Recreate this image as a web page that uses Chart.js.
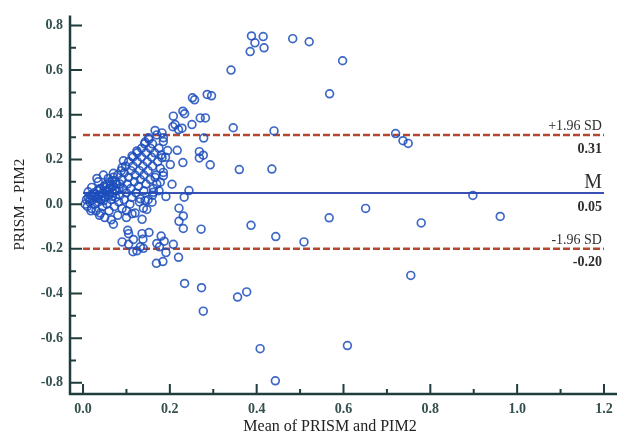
<!DOCTYPE html>
<html>
<head>
<meta charset="utf-8">
<script src="https://cdn.jsdelivr.net/npm/chart.js@4.4.1/dist/chart.umd.min.js"></script>
<style>
html,body{margin:0;padding:0;background:#fff}
#wrap{width:628px;height:440px}
</style>
</head>
<body>
<div id="wrap"><canvas id="ba"></canvas></div>
<script>
// Bland-Altman: mean of PRISM and PIM2 (x) vs difference PRISM - PIM2 (y)
const meanVals = [
0.341,0.388,0.415,0.396,0.385,0.417,0.483,0.521,0.598,0.568,
0.720,0.737,0.749,0.898,0.651,0.567,0.779,0.961,0.509,0.755,
0.609,0.346,0.440,0.360,0.435,0.252,0.257,0.286,0.296,0.208,
0.230,0.234,0.207,0.220,0.228,0.251,0.270,0.282,0.278,0.268,
0.277,0.268,0.293,0.217,0.230,0.201,0.205,0.244,0.233,0.191,
0.185,0.166,0.182,0.185,0.221,0.231,0.221,0.231,0.272,0.387,
0.444,0.208,0.220,0.234,0.273,0.277,0.356,0.377,0.408,0.443,
0.169,0.184,0.180,0.187,0.170,0.176,0.191,0.152,0.136,0.138,
0.139,0.132,0.124,0.115,0.116,0.105,0.090,0.103,0.105,0.136,
0.139,0.147,0.159,0.212,0.182,0.166,0.185,0.143,0.113,0.005,
0.008,0.010,0.012,0.015,0.018,0.020,0.022,0.025,0.027,0.030,
0.030,0.033,0.035,0.037,0.040,0.040,0.042,0.045,0.045,0.048,
0.050,0.050,0.052,0.055,0.055,0.058,0.060,0.060,0.062,0.065,
0.065,0.068,0.070,0.070,0.072,0.075,0.075,0.078,0.080,0.080,
0.082,0.085,0.085,0.088,0.090,0.090,0.092,0.095,0.095,0.098,
0.100,0.100,0.102,0.105,0.105,0.108,0.110,0.110,0.112,0.115,
0.115,0.118,0.120,0.120,0.122,0.125,0.125,0.128,0.130,0.130,
0.132,0.135,0.135,0.138,0.140,0.140,0.142,0.145,0.145,0.148,
0.150,0.150,0.152,0.155,0.155,0.158,0.160,0.160,0.162,0.165,
0.168,0.170,0.172,0.175,0.178,0.180,0.185,0.190,0.195,0.018,
0.038,0.070,0.100,0.160,0.170,0.175,0.012,0.020,0.032,0.047,
0.070,0.090,0.093,0.113,0.124,0.143,0.151,0.132,0.162,0.178,
0.035,0.058,0.028,0.038,0.043,0.052,0.057,0.063,0.067,0.073,
0.077,0.083,0.047,0.035,0.024,0.016,0.062,0.068
];
const diffVals = [
0.600,0.753,0.750,0.722,0.683,0.700,0.741,0.727,0.642,0.494,
0.316,0.284,0.272,0.039,-0.019,-0.061,-0.084,-0.055,-0.169,-0.319,
-0.633,0.342,0.328,0.155,0.157,0.476,0.467,0.491,0.485,0.394,
0.416,0.405,0.347,0.334,0.340,0.356,0.386,0.386,0.296,0.235,
0.219,0.207,0.176,0.241,0.186,0.177,0.089,0.061,0.031,0.034,
0.142,0.330,0.319,0.297,-0.018,-0.053,-0.077,-0.109,-0.112,-0.095,
-0.145,-0.180,-0.238,-0.355,-0.374,-0.479,-0.416,-0.393,-0.647,-0.791,
-0.265,-0.257,-0.143,-0.166,-0.176,-0.191,-0.217,-0.127,-0.132,-0.157,
-0.198,-0.191,-0.209,-0.213,-0.158,-0.180,-0.169,-0.117,-0.132,-0.068,
-0.018,-0.024,0.009,0.356,0.208,0.120,0.127,0.016,-0.043,0.000,
0.020,-0.010,0.030,0.010,0.040,-0.020,0.020,0.050,0.000,0.030,
-0.030,0.060,0.010,0.040,-0.040,0.070,0.020,0.050,-0.010,0.080,
0.030,-0.060,0.060,0.000,0.090,0.040,-0.030,0.070,0.100,0.020,
-0.070,0.050,0.120,0.080,-0.010,0.030,0.100,0.060,-0.050,0.130,
0.010,0.090,0.040,0.150,-0.020,0.110,0.070,0.020,0.140,0.170,
0.050,-0.060,0.090,0.120,0.190,0.000,0.150,0.070,0.030,0.170,
0.210,0.100,0.130,-0.040,0.050,0.190,0.230,0.080,0.150,0.010,
0.110,0.210,0.250,0.170,0.060,0.130,0.270,0.230,0.090,0.190,
0.150,0.020,0.290,0.250,0.110,0.210,0.170,0.270,0.070,0.230,
0.130,0.310,0.190,0.250,0.160,0.220,0.280,0.210,0.240,-0.030,
-0.050,-0.090,-0.030,0.040,0.090,0.060,0.055,0.075,0.115,0.130,
0.138,0.164,0.194,0.216,0.238,0.278,0.297,0.024,0.053,0.098,
0.100,0.115,0.045,0.065,0.035,0.075,0.055,0.085,0.035,0.065,
0.090,0.070,0.015,0.025,0.035,0.025,0.045,0.105
];

const meanDiff = 0.05;
const upperLoA = 0.31;
const lowerLoA = -0.20;
const lineRange = [0, 1.2];

const xTicks = [0, 0.2, 0.4, 0.6, 0.8, 1.0, 1.2];
const yTicks = [-0.8, -0.6, -0.4, -0.2, 0, 0.2, 0.4, 0.6, 0.8];

const serif = "'Liberation Serif', 'Times New Roman', serif";
const axisCol = "#1f3d3c";
const tickTxt = "#34504e";

function refLine(v, col, w, dash){
  return {
    type: "line",
    data: lineRange.map(x => ({x: x, y: v})),
    borderColor: col,
    borderWidth: w,
    borderDash: dash,
    pointRadius: 0,
    fill: false,
    order: 2
  };
}

function midTicks(t){
  let m = [];
  for(let i = 0; i < t.length - 1; i++) m.push((t[i] + t[i+1]) / 2);
  return m;
}

const decor = {
  id: "decor",
  beforeDraw(c){
    const ctx = c.ctx;
    ctx.save();
    ctx.fillStyle = "#fff";
    ctx.fillRect(0, 0, c.width, c.height);
    ctx.restore();
  },
  afterDraw(c){
    const {ctx, chartArea: a, scales: {x, y}} = c;
    ctx.save();
    ctx.strokeStyle = axisCol;
    ctx.lineWidth = 2.5;
    ctx.beginPath();
    ctx.moveTo(a.left, a.top);
    ctx.lineTo(a.left, a.bottom);
    ctx.lineTo(a.right, a.bottom);
    ctx.stroke();

    // inward ticks
    ctx.lineWidth = 2;
    ctx.beginPath();
    yTicks.forEach(v => { const p = y.getPixelForValue(v); ctx.moveTo(a.left, p); ctx.lineTo(a.left + 12, p); });
    midTicks(yTicks).forEach(v => { const p = y.getPixelForValue(v); ctx.moveTo(a.left, p); ctx.lineTo(a.left + 6, p); });
    xTicks.forEach(v => { const p = x.getPixelForValue(v); ctx.moveTo(p, a.bottom); ctx.lineTo(p, a.bottom - 10); });
    midTicks(xTicks).forEach(v => { const p = x.getPixelForValue(v); ctx.moveTo(p, a.bottom); ctx.lineTo(p, a.bottom - 5); });
    ctx.stroke();

    // reference line labels
    const rx = x.getPixelForValue(lineRange[1]) - 2;
    ctx.textAlign = "right";
    ctx.fillStyle = "#2e2e2e";
    const labs = [
      ["+1.96 SD", upperLoA, "14px"],
      ["M", meanDiff, "20px"],
      ["-1.96 SD", lowerLoA, "14px"]
    ];
    labs.forEach(l => {
      const py = y.getPixelForValue(l[1]);
      ctx.font = l[2] + " " + serif;
      ctx.textBaseline = "alphabetic";
      ctx.fillText(l[0], rx, py - 5);
      ctx.font = "bold 14px " + serif;
      ctx.textBaseline = "top";
      ctx.fillText(l[1].toFixed(2), rx, py + 7);
    });

    // axis titles
    ctx.fillStyle = "#222";
    ctx.font = "16px " + serif;
    ctx.textAlign = "center";
    ctx.textBaseline = "middle";
    ctx.fillText("Mean of PRISM and PIM2", 330, 427);
    ctx.translate(20, (a.top + a.bottom) / 2);
    ctx.rotate(-Math.PI / 2);
    ctx.font = "15px " + serif;
    ctx.fillText("PRISM - PIM2", 0, 0);
    ctx.restore();
  }
};

const tickFont = {family: serif, size: 14, weight: "bold"};

new Chart(document.getElementById("ba"), {
  type: "scatter",
  data: {
    datasets: [
      {
        data: meanVals.map((m, i) => ({x: m, y: diffVals[i]})),
        pointRadius: 3.9,
        pointBorderWidth: 1.7,
        pointBorderColor: "rgba(28,78,188,0.85)",
        pointBackgroundColor: "rgba(0,0,0,0)",
        order: 1
      },
      refLine(meanDiff, "#3a50b5", 2, []),
      refLine(upperLoA, "#b4482f", 2.5, [7, 3]),
      refLine(lowerLoA, "#b4482f", 2.5, [7, 3])
    ]
  },
  options: {
    responsive: true,
    maintainAspectRatio: false,
    animation: false,
    layout: {padding: {top: 12, right: 11, left: 0, bottom: 0}},
    plugins: {legend: {display: false}, tooltip: {enabled: false}},
    scales: {
      x: {
        type: "linear",
        min: -0.03,
        max: 1.23,
        afterBuildTicks: s => { s.ticks = xTicks.map(v => ({value: v})); },
        afterFit: s => { s.height = 46; },
        grid: {display: false, drawTicks: false},
        border: {display: false},
        ticks: {color: tickTxt, font: tickFont, padding: 7, maxRotation: 0, autoSkip: false,
          callback: v => v.toFixed(1)}
      },
      y: {
        type: "linear",
        min: -0.85,
        max: 0.845,
        afterBuildTicks: s => { s.ticks = yTicks.map(v => ({value: v})); },
        afterFit: s => { s.width = 70; },
        grid: {display: false, drawTicks: false},
        border: {display: false},
        ticks: {color: tickTxt, font: tickFont, padding: 7, autoSkip: false,
          callback: v => v.toFixed(1)}
      }
    }
  },
  plugins: [decor]
});
</script>
</body>
</html>
